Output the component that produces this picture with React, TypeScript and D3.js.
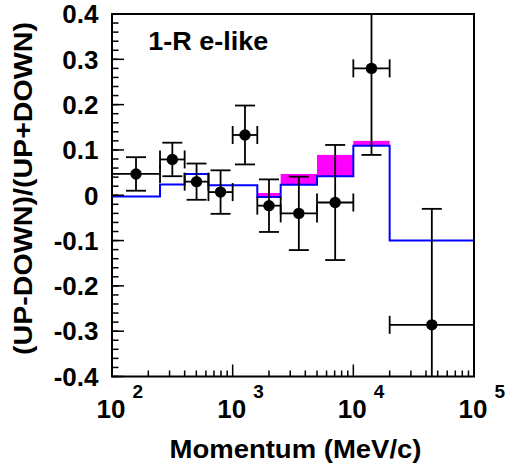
import React from "react";
import * as d3 from "d3";

// Bin edges (MeV/c)
const binEdges = [100, 250, 400, 630, 1000, 1600, 2500, 5000, 10000, 20000, 100000];
// Data: (UP-DOWN)/(UP+DOWN) and its error
const dataAsym = [0.047, 0.079, 0.030, 0.007, 0.133, -0.023, -0.040, -0.016, 0.280, -0.286];
const dataErr = [0.037, 0.037, 0.040, 0.048, 0.065, 0.058, 0.081, 0.127, 0.191, 0.256];
// MC expectation (blue line) and upper edge of magenta band
const mcLow = [-0.003, 0.024, 0.047, 0.022, 0.022, -0.004, 0.023, 0.042, 0.109, -0.1];
const mcHigh = [-0.003, 0.024, 0.047, 0.022, 0.022, 0.005, 0.047, 0.089, 0.12, -0.1];
// Axis ticks
const yTickValues = [-0.4, -0.3, -0.2, -0.1, 0, 0.1, 0.2, 0.3, 0.4];
const yTickLabels = ["-0.4", "-0.3", "-0.2", "-0.1", "0", "0.1", "0.2", "0.3", "0.4"];
const xDecades = [2, 3, 4, 5];

const W = 507;
const H = 473;
const L = 112, R = 474, T = 14, B = 376.5;
const FONT = "'Liberation Sans', Arial, Helvetica, sans-serif";

export default function App() {
  const x = d3.scaleLog().domain([100, 100000]).range([L, R]);
  const y = d3.scaleLinear().domain([-0.4, 0.4]).range([B, T]);

  const stepPts: [number, number][] = mcLow.map((v, i) => [binEdges[i], v]);
  stepPts.push([binEdges[binEdges.length - 1], mcLow[mcLow.length - 1]]);
  const stepLine = d3
    .line<[number, number]>()
    .x((d) => x(d[0]))
    .y((d) => y(d[1]))
    .curve(d3.curveStepAfter);

  const yMinor = d3.range(-0.4, 0.4001, 0.02);
  const xMinor: number[] = [];
  for (let e = 2; e < 5; e++) for (let m = 2; m <= 9; m++) xMinor.push(m * Math.pow(10, e));

  const clampY = (v: number) => Math.max(T, Math.min(B, y(v)));
  const capW = 10;
  const capH = 9;

  return (
    <svg
      width={W}
      height={H}
      style={{ position: "absolute", left: 0, top: 0, background: "#fff" }}
      fontFamily={FONT}
    >
      <rect x={0} y={0} width={W} height={H} fill="#fff" />
      {/* magenta band */}
      {mcLow.map((lo, i) =>
        mcHigh[i] > lo ? (
          <rect
            key={"m" + i}
            x={x(binEdges[i])}
            y={y(mcHigh[i])}
            width={x(binEdges[i + 1]) - x(binEdges[i])}
            height={y(lo) - y(mcHigh[i])}
            fill="#ff00ff"
          />
        ) : null
      )}
      {/* blue MC line */}
      <path d={stepLine(stepPts) || ""} fill="none" stroke="#0000ff" strokeWidth={2} />

      {/* data points */}
      {dataAsym.map((v, i) => {
        const x0 = x(binEdges[i]);
        const x1 = x(binEdges[i + 1]);
        const xc = x(Math.sqrt(binEdges[i] * binEdges[i + 1]));
        const yc = y(v);
        const top = v + dataErr[i];
        const bot = v - dataErr[i];
        const yt = clampY(top);
        const yb = clampY(bot);
        return (
          <g key={"d" + i} stroke="#000" strokeWidth={1.8}>
            <line x1={x0} x2={x1} y1={yc} y2={yc} />
            <line x1={x0} x2={x0} y1={yc - capH} y2={yc + capH} />
            <line x1={x1} x2={x1} y1={yc - capH} y2={yc + capH} />
            <line x1={xc} x2={xc} y1={yt} y2={yb} />
            {top <= 0.4 && <line x1={xc - capW} x2={xc + capW} y1={yt} y2={yt} />}
            {bot >= -0.4 && <line x1={xc - capW} x2={xc + capW} y1={yb} y2={yb} />}
            <circle cx={xc} cy={yc} r={5.7} fill="#000" stroke="none" />
          </g>
        );
      })}

      {/* frame */}
      <rect x={L} y={T} width={R - L} height={B - T} fill="none" stroke="#000" strokeWidth={2} />

      {/* y ticks */}
      {yMinor.map((v, i) => (
        <line key={"ym" + i} x1={L} x2={L + 6.5} y1={y(v)} y2={y(v)} stroke="#000" strokeWidth={1.5} />
      ))}
      {yTickValues.map((v, i) => (
        <g key={"yt" + i}>
          <line x1={L} x2={L + 12} y1={y(v)} y2={y(v)} stroke="#000" strokeWidth={1.5} />
          <text
            x={98.5}
            y={y(v) + 9.3}
            textAnchor="end"
            fontSize={26}
            fontWeight="bold"
            fill="#000"
          >
            {yTickLabels[i]}
          </text>
        </g>
      ))}

      {/* x ticks */}
      {xMinor.map((v, i) => (
        <line key={"xm" + i} x1={x(v)} x2={x(v)} y1={B} y2={B - 6} stroke="#000" strokeWidth={1.5} />
      ))}
      {xDecades.map((e) => {
        const px = x(Math.pow(10, e));
        return (
          <g key={"xd" + e}>
            <line x1={px} x2={px} y1={B} y2={B - 12} stroke="#000" strokeWidth={1.5} />
            <text x={px - 1} y={417.7} textAnchor="middle" fontSize={26} fontWeight="bold" fill="#000">
              10
            </text>
            <text x={px + 20.5} y={398.3} textAnchor="start" fontSize={19} fontWeight="bold" fill="#000">
              {String(e)}
            </text>
          </g>
        );
      })}

      {/* label */}
      <text
        x={148.3}
        y={50}
        fontSize={26}
        fontWeight="bold"
        fill="#000"
        textLength={120}
        lengthAdjust="spacingAndGlyphs"
      >
        1-R e-like
      </text>

      {/* axis titles */}
      <text
        x={295.5}
        y={458.3}
        textAnchor="middle"
        fontSize={25}
        fontWeight="bold"
        fill="#000"
        textLength={252}
        lengthAdjust="spacingAndGlyphs"
      >
        Momentum (MeV/c)
      </text>
      <text
        transform="translate(31.7,188.5) rotate(-90)"
        textAnchor="middle"
        fontSize={25}
        fontWeight="bold"
        fill="#000"
        textLength={333}
        lengthAdjust="spacingAndGlyphs"
      >
        (UP-DOWN)/(UP+DOWN)
      </text>
    </svg>
  );
}
